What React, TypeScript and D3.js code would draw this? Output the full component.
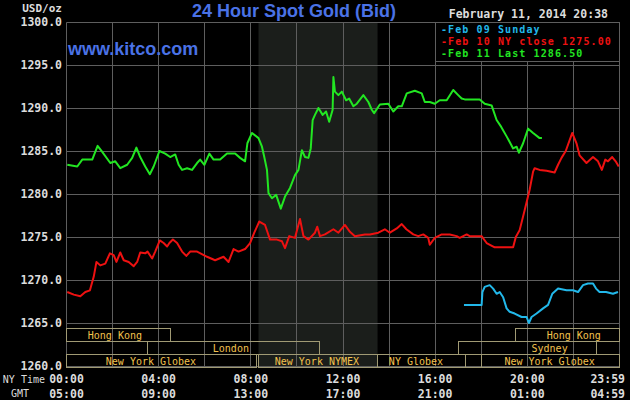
import React from "react";
import * as d3 from "d3";

// ---------- data (minutes since 00:00 NY time, price USD/oz) ----------
const feb11Minutes = [2,28,41,67,81,93,114,127,140,158,171,182,192,205,217,227,242,257,270,283,292,301,314,327,340,348,359,372,383,400,418,439,452,465,471,483,500,509,515,522,526,535,546,558,569,582,595,604,613,621,630,636,641,647,656,667,676,684,693,695,699,708,717,728,736,747,756,773,786,795,801,816,838,851,864,873,886,907,925,933,946,959,972,990,1007,1020,1029,1037,1076,1089,1107,1120,1132,1146,1163,1172,1178,1189,1202,1215,1232,1238];
const feb11Prices = [1283.4,1283.2,1284.0,1284.0,1285.6,1284.9,1283.6,1283.8,1283.0,1283.4,1284.2,1285.4,1284.3,1283.2,1282.3,1283.2,1285.0,1284.7,1284.3,1284.6,1283.4,1282.8,1283.0,1282.8,1283.6,1284.0,1283.4,1284.7,1284.0,1284.0,1284.7,1284.7,1284.2,1283.8,1285.9,1287.1,1286.5,1285.5,1284.3,1282.8,1280.1,1279.5,1279.9,1278.3,1279.7,1280.7,1282.2,1282.8,1285.1,1284.3,1284.2,1285.3,1288.6,1289.2,1290.0,1289.2,1289.6,1288.4,1289.8,1293.6,1291.9,1291.5,1291.9,1290.9,1291.1,1290.2,1290.5,1291.5,1290.7,1289.8,1289.4,1290.4,1290.5,1289.6,1290.2,1290.2,1291.7,1292.0,1291.7,1290.7,1290.7,1290.5,1290.9,1290.9,1292.1,1291.5,1291.1,1291.0,1291.0,1290.5,1290.3,1288.6,1287.8,1286.7,1285.3,1285.5,1284.8,1285.9,1287.6,1287.1,1286.5,1286.5];

const feb10Minutes = [2,19,36,49,61,71,78,88,101,113,123,130,140,149,162,175,184,192,205,211,223,231,243,253,262,268,277,288,301,312,322,340,366,387,409,422,435,448,465,478,489,502,517,530,548,561,569,580,595,608,617,630,647,653,660,673,695,708,725,738,751,777,790,812,829,842,860,873,885,903,916,929,942,946,959,977,998,1016,1024,1042,1050,1081,1094,1115,1146,1163,1170,1180,1193,1206,1215,1219,1232,1250,1271,1280,1289,1300,1317,1328,1336,1354,1371,1384,1394,1403,1410,1421,1430,1438];
const feb10Prices = [1268.6,1268.3,1268.1,1268.6,1268.8,1270.4,1272.1,1271.7,1271.9,1273.1,1272.9,1272.1,1273.2,1272.3,1272.1,1271.6,1272.1,1273.2,1273.1,1273.3,1272.5,1273.3,1274.6,1274.3,1273.9,1274.3,1274.7,1274.3,1273.3,1272.8,1273.3,1273.3,1272.7,1272.3,1272.7,1272.1,1273.6,1273.3,1273.6,1274.3,1275.5,1276.8,1276.4,1274.7,1274.7,1274.5,1273.7,1275.1,1274.9,1277.1,1275.1,1274.7,1275.5,1276.2,1275.1,1275.3,1275.9,1275.5,1276.4,1275.6,1275.1,1275.3,1275.3,1275.5,1275.9,1275.5,1276.0,1276.5,1275.9,1275.3,1275.1,1275.3,1274.9,1274.1,1274.9,1275.3,1275.3,1275.1,1274.9,1275.3,1275.1,1275.1,1274.3,1273.8,1273.8,1273.8,1275.0,1275.8,1278.1,1280.5,1282.6,1283.0,1282.8,1282.7,1282.5,1283.4,1284.2,1285.0,1287.1,1285.9,1284.5,1283.6,1284.3,1283.8,1282.8,1284.0,1283.8,1284.3,1283.8,1283.2];

const feb09Minutes = [1035,1081,1083,1089,1102,1111,1120,1128,1137,1146,1154,1167,1185,1198,1204,1211,1224,1241,1254,1265,1280,1302,1319,1332,1345,1358,1371,1379,1388,1405,1423,1436];
const feb09Prices = [1267.1,1267.1,1268.6,1269.2,1269.4,1269.0,1268.4,1268.6,1268.0,1266.7,1266.3,1266.1,1265.7,1265.7,1265.0,1265.7,1266.1,1266.7,1267.1,1268.4,1269.0,1268.8,1268.8,1268.6,1269.4,1269.6,1269.6,1269.0,1268.6,1268.6,1268.4,1268.6];

const priceTicks = [1260, 1265, 1270, 1275, 1280, 1285, 1290, 1295, 1300];
const gridMinutes = [0, 120, 240, 360, 480, 600, 720, 840, 960, 1080, 1200, 1320, 1440];
const labelMinutes = [0, 240, 480, 720, 960, 1200, 1440];
const nyLabels = ["00:00", "04:00", "08:00", "12:00", "16:00", "20:00", "23:59"];
const gmtLabels = ["05:00", "09:00", "13:00", "17:00", "21:00", "01:00", "04:59"];

const legendLabels = ["-Feb 09 Sunday", "-Feb 10 NY close 1275.00", "-Feb 11 Last 1286.50"];

const sessionNames = ["Hong Kong", "London", "New York Globex", "New York NYMEX", "NY Globex", "", "New York Globex", "Sydney", "Hong Kong"];
const sessionStart = [0, 210, 0, 500, 810, 1040, 1080, 1020, 1170];
const sessionEnd = [270, 660, 495, 810, 1040, 1080, 1440, 1380, 1440];
const sessionRow = [0, 1, 2, 2, 2, 2, 2, 1, 0];
const sessionLabelAt = [126, 428, 220, 652, 910, 1060, 1258, 1258, 1321];

const nymexShade = [500, 810];

// ---------- styling ----------
const W = 630, H = 400;
const MONO = "'DejaVu Sans Mono', monospace";
const SANS = "'Liberation Sans', Arial, sans-serif";
const GRID = "#5e5e5e";
const TXT = "#dcdcdc";
const BOXC = "#a09a74";
const BOXT = "#f2c24e";
const C09 = "#22b8ea";
const C10 = "#ee1111";
const C11 = "#22e622";

export default function App() {
  const x = d3.scaleLinear().domain([0, 1440]).range([66.5, 619.5]);
  const y = d3.scaleLinear().domain([1260, 1300]).range([366, 22]);
  const px = (v: number) => Math.floor(x(v)) + 0.5;
  const py = (v: number) => Math.round(y(v)) + 0.5;

  const line = d3.line<[number, number]>().x(d => x(d[0])).y(d => y(d[1]));
  const s11 = feb11Minutes.map((m, i) => [m, feb11Prices[i]] as [number, number]);
  const s10 = feb10Minutes.map((m, i) => [m, feb10Prices[i]] as [number, number]);
  const s09 = feb09Minutes.map((m, i) => [m, feb09Prices[i]] as [number, number]);

  const rowTop = [328, 341, 354];
  const rowH = 13;

  const legendX = 435.5, legendTop = 22.5, legendBottom = 61.5, legendRight = px(1440);

  return (
    <div style={{ position: "absolute", left: 0, top: 0 }}>
      <svg width={W} height={H} style={{ display: "block", background: "#000" }}>
        <rect x={0} y={0} width={W} height={H} fill="#000" />
        {/* NYMEX shaded period */}
        <rect x={x(nymexShade[0])} y={y(1300)} width={x(nymexShade[1]) - x(nymexShade[0])} height={y(1260) - y(1300)} fill="#1b1e1b" />
        {/* grid */}
        {gridMinutes.map(m => (
          <line key={"gx" + m} x1={px(m)} x2={px(m)} y1={py(1300)} y2={py(1260)} stroke={GRID} strokeWidth={1} />
        ))}
        {priceTicks.map(p => (
          <line key={"gy" + p} x1={px(0)} x2={px(1440)} y1={py(p)} y2={py(p)} stroke={GRID} strokeWidth={1} />
        ))}
        {/* y labels */}
        {priceTicks.map(p => (
          <text key={"yl" + p} x={62} y={y(p) + 4} textAnchor="end" fontFamily={MONO} fontWeight="bold" fontSize={11.5} fill={TXT}>
            {p.toFixed(1)}
          </text>
        ))}
        <text x={62} y={12} textAnchor="end" fontFamily={MONO} fontWeight="bold" fontSize={11} fill={TXT}>USD/oz</text>

        {/* session boxes */}
        {sessionNames.map((name, i) => {
          const x0 = px(sessionStart[i]);
          const x1 = px(sessionEnd[i]);
          const top = rowTop[sessionRow[i]] + 0.5;
          return (
            <g key={"s" + i}>
              <rect x={x0} y={top} width={x1 - x0} height={rowH} fill="none" stroke={BOXC} strokeWidth={1} />
              {name && (
                <text x={x(sessionLabelAt[i])} y={top + 10} textAnchor="middle" fontFamily={MONO} fontSize={10} fill={BOXT}>
                  {name}
                </text>
              )}
            </g>
          );
        })}

        {/* series */}
        <path d={line(s10) || ""} fill="none" stroke={C10} strokeWidth={2} strokeLinejoin="round" />
        <path d={line(s09) || ""} fill="none" stroke={C09} strokeWidth={2} strokeLinejoin="round" />
        <path d={line(s11) || ""} fill="none" stroke={C11} strokeWidth={2} strokeLinejoin="round" />

        {/* legend box */}
        <rect x={legendX} y={legendTop} width={legendRight - legendX} height={legendBottom - legendTop} fill="#000" stroke={GRID} strokeWidth={1} />
        {legendLabels.map((t, i) => (
          <text key={"lg" + i} x={441} y={33 + i * 12} fontFamily={MONO} fontWeight="bold" fontSize={10} letterSpacing={1.1} fill={[C09, C10, C11][i]}>
            {t}
          </text>
        ))}

        {/* titles */}
        <text x={294} y={17} textAnchor="middle" fontFamily={SANS} fontWeight="bold" fontSize={18} fill="#4a72e6">24 Hour Spot Gold (Bid)</text>
        <text x={68} y={55} fontFamily={SANS} fontWeight="bold" fontSize={18} fill="#4a72e6">www.kitco.com</text>
        <text x={608} y={18} textAnchor="end" fontFamily={MONO} fontWeight="bold" fontSize={11.5} fill={TXT}>February 11, 2014 20:38</text>

        {/* x labels */}
        <text x={45} y={383} textAnchor="end" fontFamily={MONO} fontSize={10} fill={TXT}>NY Time</text>
        <text x={20} y={397} textAnchor="middle" fontFamily={MONO} fontSize={10} fill={TXT}>GMT</text>
        {labelMinutes.map((m, i) => {
          const last = i === labelMinutes.length - 1;
          return (
            <g key={"xl" + m}>
              <text x={last ? 625 : x(m)} y={383} textAnchor={last ? "end" : "middle"} fontFamily={MONO} fontWeight="bold" fontSize={11.5} fill={TXT}>{nyLabels[i]}</text>
              <text x={last ? 625 : x(m)} y={398} textAnchor={last ? "end" : "middle"} fontFamily={MONO} fontWeight="bold" fontSize={11.5} fill={TXT}>{gmtLabels[i]}</text>
            </g>
          );
        })}
      </svg>
    </div>
  );
}
